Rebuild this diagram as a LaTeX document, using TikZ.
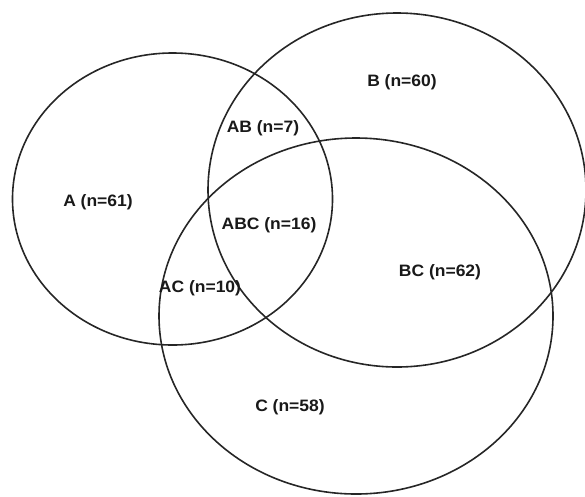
\documentclass[tikz,border=0pt]{standalone}
\usepackage{fontspec}
\setmainfont{Liberation Sans}
\begin{document}
\begin{tikzpicture}[x=1pt,y=-1pt,
  setshape/.style={draw=black!85,line width=1.6pt},
  lbl/.style={font=\bfseries\fontsize{16.5}{18}\selectfont,inner sep=0pt,xscale=1.06,text=black!90}]
\useasboundingbox (0,0) rectangle (585,496);
\draw[setshape] (172.5,199) ellipse [x radius=160, y radius=146];
\draw[setshape] (397,190) ellipse [x radius=189, y radius=177];
\draw[setshape] (356,316) ellipse [x radius=197, y radius=178];
\node[lbl] (a) at (98,202) {A (n=61)};
\node[lbl] (b) at (402,82) {B (n=60)};
\node[lbl] (ab) at (263,128) {AB (n=7)};
\node[lbl] (abc) at (269,225) {ABC (n=16)};
\node[lbl] (ac) at (200,288) {AC (n=10)};
\node[lbl] (bc) at (440,272) {BC (n=62)};
\node[lbl] (c) at (290,407) {C (n=58)};
\end{tikzpicture}
\end{document}
